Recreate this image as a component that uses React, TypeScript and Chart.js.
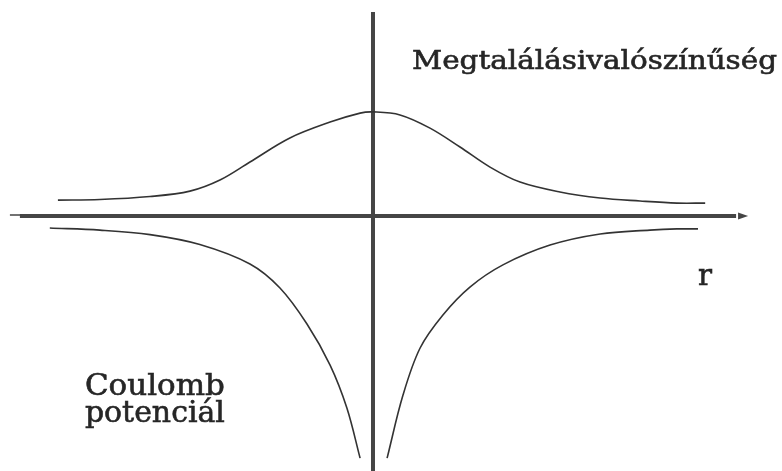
import React, { useEffect, useRef } from "react";
import { Chart, registerables } from "chart.js";

Chart.register(...registerables);

// Probability density (Megtalálási valószínűség) — r, value
const probR = [-10.5, -9.1, -7.43, -6.1, -5.1, -4.1, -2.77, -1.43, -0.43, 0, 0.9, 1.9, 2.9, 3.9, 4.9, 6.23, 7.57, 8.9, 10.13, 11.07];
const probV = [0.53, 0.55, 0.65, 0.83, 1.2, 1.8, 2.6, 3.13, 3.43, 3.47, 3.37, 2.93, 2.3, 1.63, 1.13, 0.8, 0.6, 0.5, 0.43, 0.43];

// Coulomb potential, left branch (r < 0)
const coulLeftR = [-10.77, -9.1, -7.43, -5.77, -4.1, -3.1, -2.2, -1.43, -0.87, -0.43];
const coulLeftV = [-0.4, -0.47, -0.62, -0.95, -1.6, -2.4, -3.6, -4.97, -6.4, -8.07];

// Coulomb potential, right branch (r > 0)
const coulRightR = [0.47, 1.0, 1.57, 2.33, 3.23, 4.33, 5.9, 7.57, 9.23, 10.13, 10.83];
const coulRightV = [-8.07, -5.97, -4.4, -3.3, -2.37, -1.63, -0.97, -0.6, -0.47, -0.43, -0.43];

// Labels
const labelProb = "Megtalálásivalószínűség";
const labelR = "r";
const labelCoulomb = ["Coulomb", "potenciál"];

const X_MIN = -12.43;
const X_MAX = 13.63;
const Y_MIN = -8.5;
const Y_MAX = 7.2;

const toPts = (xs: number[], ys: number[]) => xs.map((x, i) => ({ x, y: ys[i] }));

const INK = "#333333";
const AXIS = "#454545";
const FONT = "'DejaVu Serif', 'Liberation Serif', serif";

function fitText(ctx: CanvasRenderingContext2D, text: string, left: number, baseline: number, width: number, size: number, weight = "normal") {
  ctx.save();
  ctx.font = `${weight} ${size}px ${FONT}`;
  const w = ctx.measureText(text).width;
  ctx.translate(left, baseline);
  ctx.scale(width / w, 1);
  ctx.fillStyle = "#262626";
  ctx.strokeStyle = "#262626";
  ctx.lineWidth = 0.6;
  ctx.textBaseline = "alphabetic";
  ctx.textAlign = "left";
  ctx.fillText(text, 0, 0);
  ctx.strokeText(text, 0, 0);
  ctx.restore();
}

const decorPlugin = {
  id: "decor",
  beforeDatasetsDraw(chart: any) {
    const ctx: CanvasRenderingContext2D = chart.ctx;
    const xs = chart.scales.x;
    const ys = chart.scales.y;
    const x0 = xs.getPixelForValue(0);
    const y0 = ys.getPixelForValue(0);
    ctx.save();
    ctx.strokeStyle = AXIS;
    ctx.fillStyle = AXIS;
    const xl = xs.getPixelForValue(-12.1);
    const xr = xs.getPixelForValue(12.5);
    ctx.lineWidth = 4;
    ctx.beginPath();
    ctx.moveTo(xl + 10, y0);
    ctx.lineTo(xr - 12, y0);
    ctx.stroke();
    ctx.lineWidth = 1.5;
    ctx.beginPath();
    ctx.moveTo(xl, y0 - 1);
    ctx.lineTo(xl + 12, y0 - 1);
    ctx.stroke();
    ctx.beginPath();
    ctx.moveTo(xr, y0);
    ctx.lineTo(xr - 10, y0 - 3.5);
    ctx.lineTo(xr - 10, y0 + 3.5);
    ctx.closePath();
    ctx.fill();
    ctx.lineWidth = 4;
    ctx.beginPath();
    ctx.moveTo(x0, ys.getPixelForValue(6.8));
    ctx.lineTo(x0, ys.getPixelForValue(Y_MIN));
    ctx.stroke();
    ctx.restore();
  },
  afterDatasetsDraw(chart: any) {
    const ctx: CanvasRenderingContext2D = chart.ctx;
    const xs = chart.scales.x;
    const ys = chart.scales.y;
    const px = (v: number) => xs.getPixelForValue(v);
    const py = (v: number) => ys.getPixelForValue(v);
    fitText(ctx, labelProb, px(1.3), py(4.9), 365, 26);
    fitText(ctx, labelR, px(10.83), py(-2.3), 14, 29);
    fitText(ctx, labelCoulomb[0], px(-9.6), py(-5.97), 140, 30);
    fitText(ctx, labelCoulomb[1], px(-9.6), py(-6.87), 140, 30);
  },
};

export default function App() {
  const ref = useRef<HTMLCanvasElement | null>(null);
  useEffect(() => {
    if (!ref.current) return;
    const common = {
      showLine: true,
      borderColor: INK,
      borderWidth: 1.6,
      pointRadius: 0,
      fill: false,
      tension: 0.35,
    };
    const chart = new Chart(ref.current, {
      type: "scatter",
      data: {
        datasets: [
          { ...common, label: labelProb, data: toPts(probR, probV) },
          { ...common, label: "Coulomb L", data: toPts(coulLeftR, coulLeftV) },
          { ...common, label: "Coulomb R", data: toPts(coulRightR, coulRightV) },
        ],
      },
      options: {
        animation: false,
        responsive: false,
        devicePixelRatio: 1,
        layout: { padding: 0 },
        plugins: { legend: { display: false }, tooltip: { enabled: false } },
        scales: {
          x: { type: "linear", min: X_MIN, max: X_MAX, display: false },
          y: { type: "linear", min: Y_MIN, max: Y_MAX, display: false },
        },
      },
      plugins: [decorPlugin],
    });
    return () => chart.destroy();
  }, []);
  return (
    <div style={{ position: "absolute", left: 0, top: 0, width: 782, height: 471, background: "#fff" }}>
      <canvas ref={ref} width={782} height={471} style={{ display: "block" }} />
    </div>
  );
}
